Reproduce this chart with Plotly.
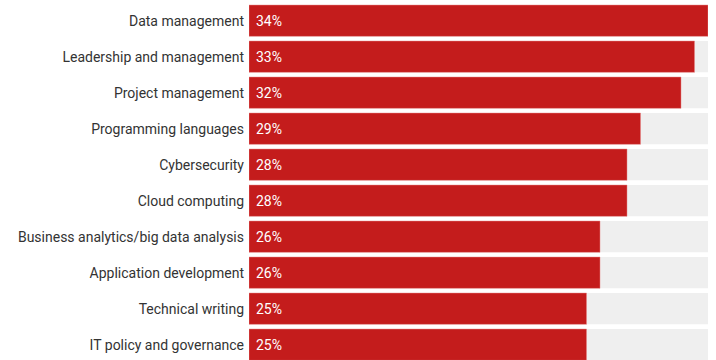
import plotly.graph_objects as go

skills = [
    "Data management",
    "Leadership and management",
    "Project management",
    "Programming languages",
    "Cybersecurity",
    "Cloud computing",
    "Business analytics/big data analysis",
    "Application development",
    "Technical writing",
    "IT policy and governance",
]
shares = [34, 33, 32, 29, 28, 28, 26, 26, 25, 25]

RED = "#C41C1C"
TRACK = "#EFEFEF"
FONT = "Roboto"

track_max = max(shares)

fig = go.Figure()

# grey track behind each bar, spanning the full scale
fig.add_trace(go.Bar(
    y=skills,
    x=[track_max] * len(skills),
    orientation="h",
    marker=dict(color=TRACK, line=dict(width=0)),
    hoverinfo="skip",
    showlegend=False,
))

# actual shares
fig.add_trace(go.Bar(
    y=skills,
    x=shares,
    orientation="h",
    marker=dict(color=RED, line=dict(color="rgba(232,130,130,0.8)", width=0.6)),
    showlegend=False,
    hovertemplate="%{y}: %{x}%<extra></extra>",
))

# value labels placed at the start of each bar
for name, val in zip(skills, shares):
    fig.add_annotation(
        x=0, y=name, text=f"{val}%",
        xanchor="left", yanchor="middle", xshift=5,
        showarrow=False,
        font=dict(family=FONT, size=14, color="white"),
    )

fig.update_layout(
    width=716, height=360,
    margin=dict(l=249, r=8, t=0, b=0),
    barmode="overlay",
    bargap=0.13,
    plot_bgcolor="white",
    paper_bgcolor="white",
    font=dict(family=FONT, size=14, color="#333333"),
    xaxis=dict(
        range=[0, track_max], visible=False, fixedrange=True,
    ),
    yaxis=dict(
        type="category",
        range=[9.425, -0.575],
        showgrid=False, zeroline=False, showline=False,
        ticks="", ticklabelstandoff=4,
        tickfont=dict(family=FONT, size=14, color="#333333"),
        fixedrange=True,
    ),
)

fig.write_html("out.html")
